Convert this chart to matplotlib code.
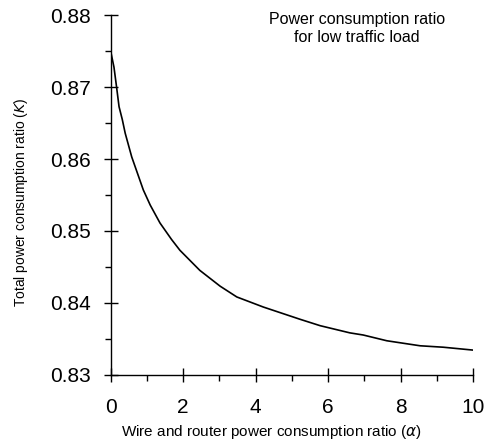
import matplotlib
matplotlib.use("Agg")
import matplotlib.pyplot as plt
from matplotlib.ticker import MultipleLocator

alpha = [0.0, 0.09, 0.16, 0.23, 0.32, 0.40, 0.58, 0.74, 0.90, 1.09, 1.36, 1.68,
         1.91, 2.46, 3.02, 3.48, 4.21, 5.22, 5.78, 6.60, 6.97, 7.62, 8.54, 9.18, 10.0]
ratio = [0.8750, 0.8728, 0.8701, 0.8673, 0.8655, 0.8636, 0.8603, 0.8580, 0.8557,
         0.8536, 0.8511, 0.8488, 0.8473, 0.8445, 0.8423, 0.8408, 0.8394, 0.8377,
         0.8368, 0.8358, 0.8355, 0.8347, 0.8340, 0.8338, 0.8334]

xticks = [0, 2, 4, 6, 8, 10]
yticks = [0.83, 0.84, 0.85, 0.86, 0.87, 0.88]

plt.rcParams['font.family'] = ['Liberation Sans', 'DejaVu Sans']

fig = plt.figure(figsize=(4.86, 4.42), dpi=100)
ax = fig.add_axes([0.2278, 0.1527, 0.9733 - 0.2278, 0.965 - 0.1527])
ax.plot(alpha, ratio, color='black', lw=1.2)
ax.set_xlim(0, 10)
ax.set_ylim(0.83, 0.88)
ax.set_xticks(xticks)
ax.set_xticklabels([str(t) for t in xticks])
ax.set_yticks(yticks)
ax.set_yticklabels([f"{t:.2f}" for t in yticks])
ax.xaxis.set_minor_locator(MultipleLocator(1))
ax.yaxis.set_minor_locator(MultipleLocator(0.005))
for s in ['top', 'right']:
    ax.spines[s].set_visible(False)
for s in ['left', 'bottom']:
    ax.spines[s].set_linewidth(1.0)
ax.tick_params(which='major', direction='inout', length=10, width=1.0, labelsize=15)
ax.tick_params(axis='x', which='major', pad=12)
ax.tick_params(axis='y', which='major', pad=9)
ax.tick_params(which='minor', direction='out', length=4, width=1.0)

ax.text(0.68, 1.01, "Power consumption ratio\nfor low traffic load", transform=ax.transAxes,
        ha='center', va='top', fontsize=11.5, linespacing=1.25)
ax.set_xlabel(r"Wire and router power consumption ratio ($\alpha$)", fontsize=11, labelpad=3)
ax.xaxis.set_label_coords(0.445, -0.135)
ax.set_ylabel(r"Total power consumption ratio ($K$)", fontsize=10)
ax.yaxis.set_label_coords(-0.222, 0.478)

fig.savefig("out.png", dpi=100)
